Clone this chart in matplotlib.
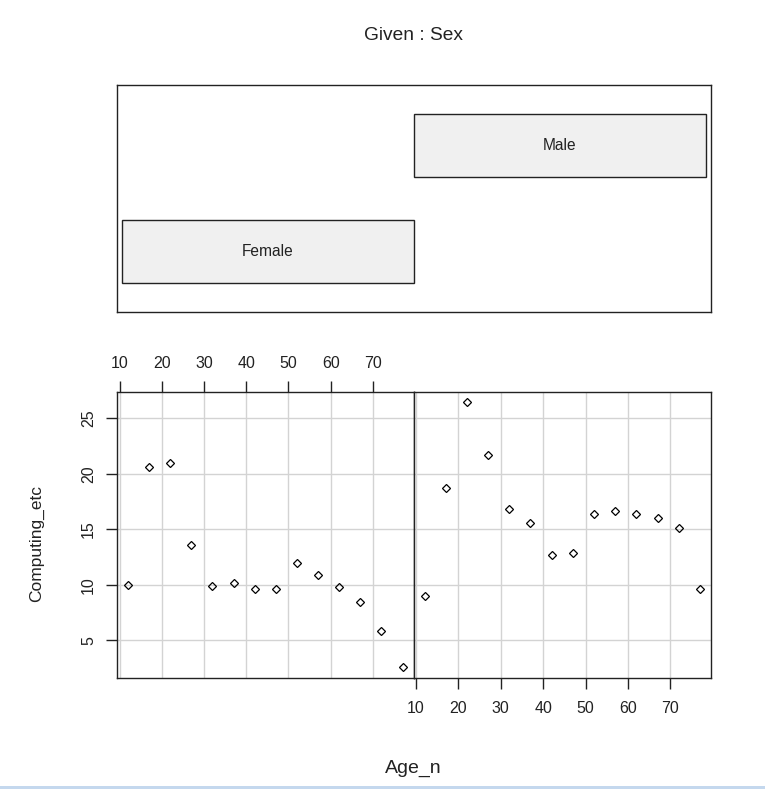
import matplotlib
matplotlib.use("Agg")
import matplotlib.pyplot as plt
import numpy as np
from matplotlib.patches import Rectangle

plt.rcParams["font.family"] = ["Liberation Sans", "DejaVu Sans"]

# data
ages = [12, 17, 22, 27, 32, 37, 42, 47, 52, 57, 62, 67, 72, 77]
female_vals = [10.0, 20.6, 20.95, 13.6, 9.9, 10.15, 9.6, 9.6, 11.95, 10.9, 9.8, 8.45, 5.85, 2.6]
male_vals = [9.0, 18.7, 26.45, 21.7, 16.8, 15.55, 12.7, 12.9, 16.35, 16.65, 16.35, 16.0, 15.1, 9.6]
levels = ["Female", "Male"]
level_lo = [0.5, 1.5]
level_hi = [1.5, 2.5]
x_ticks = [10, 20, 30, 40, 50, 60, 70]
y_ticks = [5, 10, 15, 20, 25]

W, H, DPI = 765, 789, 100
INK = "#222222"
GRID = "#d3d3d3"
BAR = "#f0f0f0"
TICK_FS = 11.5


def ext(lo, hi, f=0.04):
    d = (hi - lo) * f
    return lo - d, hi + d


def fax(x0, y0, x1, y1):
    # pixel box (top-left origin) -> figure axes
    return fig.add_axes((x0 / W, 1 - y1 / H, (x1 - x0) / W, (y1 - y0) / H))


fig = plt.figure(figsize=(W / DPI, H / DPI), dpi=DPI, facecolor="white")

# given panel
gax = fax(117, 85, 711, 312)
gax.set_xlim(0.483, 2.517)
gax.set_ylim(0.42, 2.58)
gax.set_xticks([])
gax.set_yticks([])
for s in gax.spines.values():
    s.set_color(INK)
    s.set_linewidth(1.0)
for i, (name, lo, hi) in enumerate(zip(levels, level_lo, level_hi)):
    gax.add_patch(Rectangle((lo, i + 1 - 0.3), hi - lo, 0.6, facecolor=BAR, edgecolor=INK, lw=1.0))
    gax.text((lo + hi) / 2, i + 1, name, ha="center", va="center", fontsize=11.2, color=INK)

xlim = ext(min(ages), max(ages))
all_y = female_vals + male_vals
ylim = ext(min(all_y), max(all_y))

panels = [(117, 413.5, female_vals), (413.5, 711, male_vals)]
for k, (x0, x1, vals) in enumerate(panels):
    ax = fax(x0, 391.5, x1, 677.5)
    ax.set_xlim(*xlim)
    ax.set_ylim(*ylim)
    ax.set_xticks(x_ticks)
    ax.set_yticks(y_ticks)
    ax.grid(True, color=GRID, lw=1.0)
    ax.set_axisbelow(True)
    ax.plot(ages, vals, linestyle="none", marker="D", ms=4.2, mfc="none", mec="black", mew=0.9)
    for s in ax.spines.values():
        s.set_color(INK)
        s.set_linewidth(1.0)
    ax.tick_params(length=8, width=1.0, color=INK, labelsize=TICK_FS, labelcolor=INK)
    if k == 0:
        ax.tick_params(axis="x", bottom=False, labelbottom=False, top=True, labeltop=True, pad=6.5)
        ax.tick_params(axis="y", left=True, labelleft=True, pad=7)
        for t in ax.get_yticklabels():
            t.set_rotation(90)
            t.set_va("center")
    else:
        ax.tick_params(axis="x", bottom=True, labelbottom=True, pad=9)
        ax.tick_params(axis="y", left=False, labelleft=False)

fig.text(413 / W, 1 - 36 / H, "Given : Sex", ha="center", va="center", fontsize=13.8, color=INK)
fig.text(413 / W, 1 - 768 / H, "Age_n", ha="center", va="center", fontsize=14, color=INK)
fig.text(37 / W, 1 - 544 / H, "Computing_etc", ha="center", va="center", rotation=90, fontsize=12.5, color=INK)

# thin light-blue strip along the bottom edge of the screenshot
fig.add_artist(Rectangle((0, 0), 1, 3 / H, transform=fig.transFigure, facecolor="#c4d8ee", edgecolor="none"))

fig.savefig("out.png", dpi=DPI, facecolor="white")
